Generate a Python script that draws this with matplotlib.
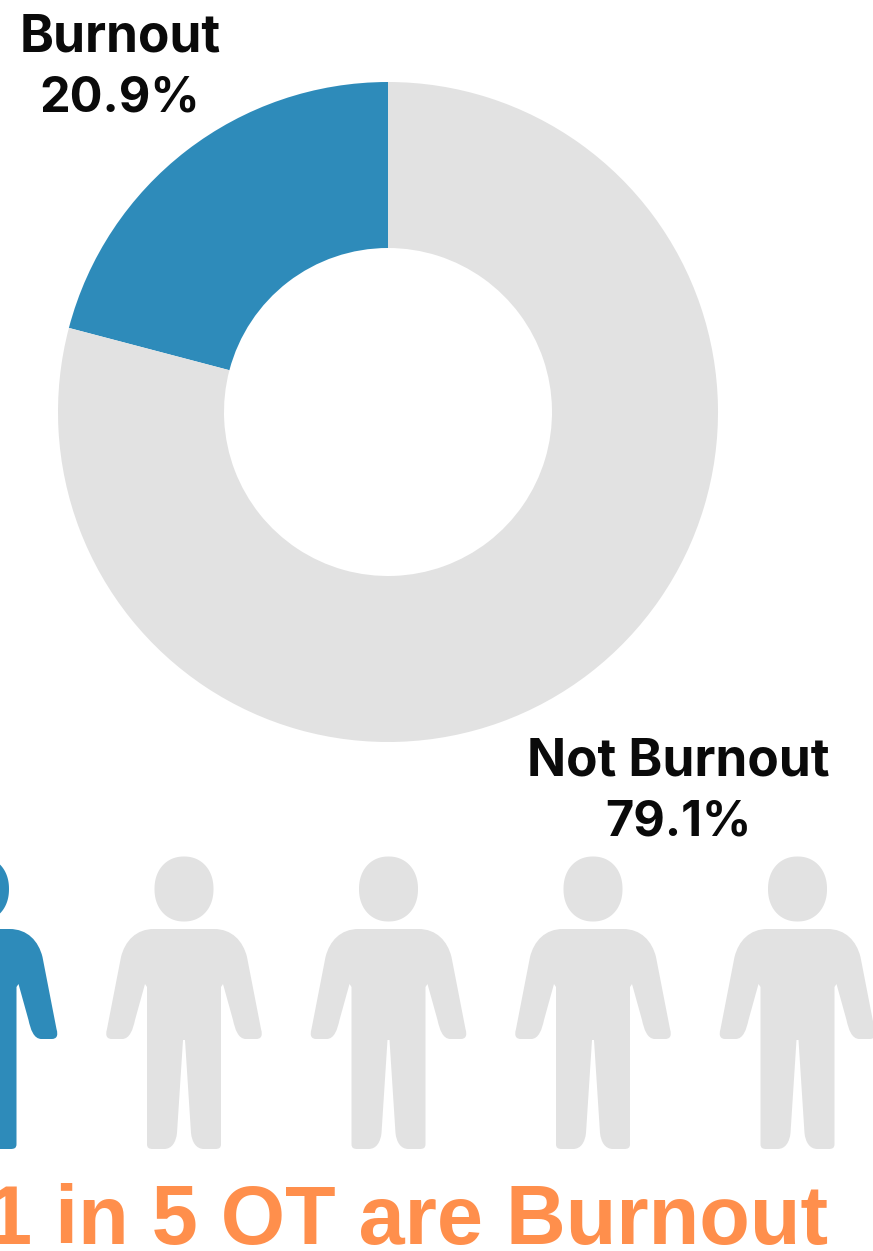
import matplotlib
matplotlib.use("Agg")
import numpy as np
import matplotlib.pyplot as plt
from matplotlib.path import Path
from matplotlib.patches import PathPatch, Polygon
from matplotlib.transforms import Affine2D

# Data
categories = ["Burnout", "Not Burnout"]
shares = [20.9, 79.1]
share_labels = ["20.9%", "79.1%"]
people_total = 5
people_highlighted = 1
headline = "1 in 5 OT are Burnout"

BLUE = "#2E8BBA"
GREY = "#E2E2E2"
ORANGE = "#FF8F4C"
W, H = 873, 1251

fig = plt.figure(figsize=(W / 100, H / 100), dpi=100, facecolor="white")
ax = fig.add_axes([0, 0, 1, 1])

# Donut, measured in figure pixels with y running upward
ax.pie(shares, colors=[BLUE, GREY], startangle=90, counterclock=True,
       center=(388, H - 412), radius=330, frame=True,
       wedgeprops=dict(width=166, linewidth=0))
ax.set_aspect("auto")
ax.set_xlim(0, W)
ax.set_ylim(0, H)
ax.axis("off")


def body_path():
    """Outline of torso, arms and legs; x is centred, y is the distance below the shoulders."""
    M, L, C = Path.MOVETO, Path.LINETO, Path.CURVE4
    right = Path(
        [(0, 0), (30, 0),
         (48, 0), (59, 12), (63, 28),
         (77, 100),
         (79, 107), (77, 110), (72, 110),
         (62, 110),
         (54, 110), (51, 100), (49, 91),
         (39, 55),
         (37, 58),
         (37, 215),
         (37, 219), (35, 220), (31, 220),
         (20, 220),
         (12, 220), (8, 213), (7, 204),
         (1, 111), (0, 111)],
        [M, L,
         C, C, C,
         L,
         C, C, C,
         L,
         C, C, C,
         L,
         L,
         L,
         C, C, C,
         L,
         C, C, C,
         L, L],
    )
    half = right.to_polygons(closed_only=False)[0]
    left = half[::-1] * np.array([-1, 1])
    return Path(np.vstack([half, left]), closed=True)


def head_outline(cx, cy, rx, ry, n=2.15):
    """Slightly squared-off ellipse used for the head."""
    t = np.linspace(0, 2 * np.pi, 120, endpoint=False)
    x = np.sign(np.cos(t)) * np.abs(np.cos(t)) ** (2 / n)
    y = np.sign(np.sin(t)) * np.abs(np.sin(t)) ** (2 / n)
    return np.column_stack([cx + rx * x, cy + ry * y])


body = body_path()
spacing = 204.5
first_centre = -20.5
shoulder_y = H - 929
for i in range(people_total):
    cx = first_centre + spacing * i
    color = BLUE if i < people_highlighted else GREY
    tr = Affine2D().scale(1, -1).translate(cx, shoulder_y) + ax.transData
    ax.add_patch(PathPatch(body, facecolor=color, edgecolor="none", transform=tr))
    ax.add_patch(Polygon(head_outline(cx, H - 889, 29.5, 32.5),
                         facecolor=color, edgecolor="none"))

name_font = dict(family="Inter", fontweight="bold", fontsize=37, color="#0a0a0a",
                 ha="center", va="baseline")
share_font = dict(name_font, fontsize=35)
ax.text(120, H - 51, categories[0], **name_font)
ax.text(120, H - 112, share_labels[0], **share_font)
ax.text(678, H - 775, categories[1], **name_font)
ax.text(678, H - 836, share_labels[1], **share_font)

ax.text(407.5, H - 1244, headline, family="Liberation Sans", fontweight="bold",
        fontsize=59.7, color=ORANGE, ha="center", va="baseline")

fig.savefig("out.png", dpi=100, facecolor="white")
